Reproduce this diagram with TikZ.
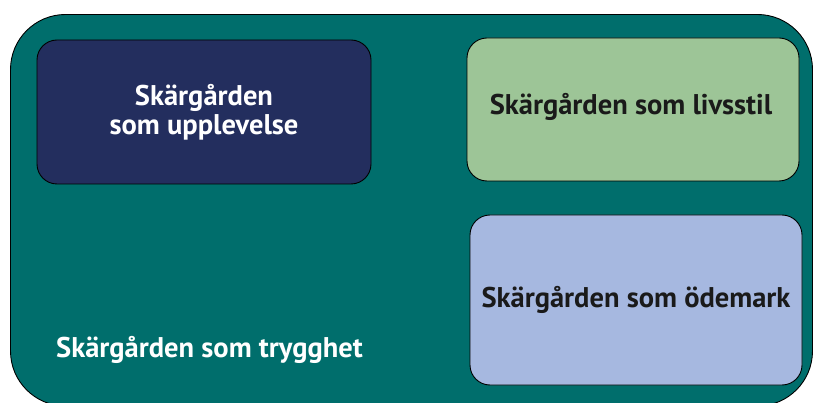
\documentclass[tikz,border=0pt]{standalone}
\usepackage{fontspec}
\setmainfont{PT Sans}
\definecolor{outerteal}{HTML}{006E6C}
\definecolor{navybox}{HTML}{232E5E}
\definecolor{greenbox}{HTML}{9DC597}
\definecolor{bluebox}{HTML}{A6B8E0}
\definecolor{darktext}{HTML}{1A1A1A}
\tikzset{
  panel/.style={draw=black, line width=0.9pt, rounded corners=20pt},
  lbl/.style={font=\bfseries\fontsize{28.5}{29}\selectfont, align=center, inner sep=0pt},
}
\begin{document}
\begin{tikzpicture}[x=1pt,y=-1pt]
\useasboundingbox (0,0) rectangle (814,403);
\clip (0,0) rectangle (814,403);
\draw[fill=outerteal, draw=black, line width=0.9pt, rounded corners=55pt] (10.5,14.5) rectangle (812.5,406);
\path[panel, fill=navybox] (37,40) rectangle (371,184);
\path[panel, fill=greenbox] (467,38) rectangle (799,181);
\path[panel, fill=bluebox] (470,215) rectangle (802,385);
\node[lbl, text=white] (upp) at (204,112) {Skärgården\\som upplevelse};
\node[lbl, text=darktext] (liv) at (631,107) {Skärgården som livsstil};
\node[lbl, text=darktext] (ode) at (636,300) {Skärgården som ödemark};
\node[lbl, text=white, anchor=base west] (try) at (56,357) {Skärgården som trygghet};
\end{tikzpicture}
\end{document}
